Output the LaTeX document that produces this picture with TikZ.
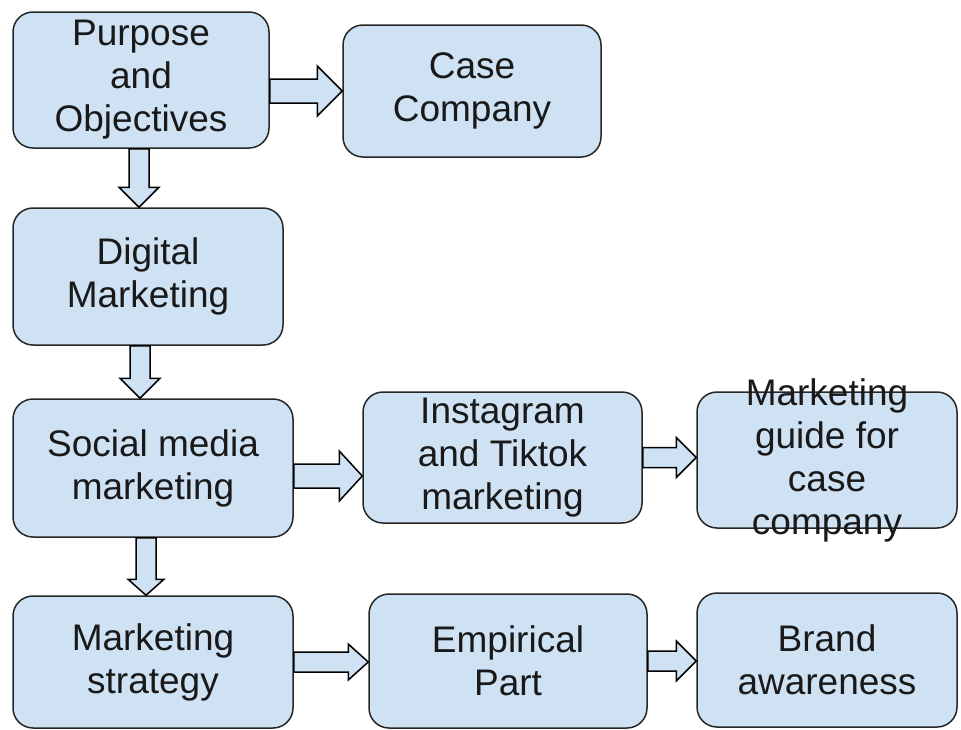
\documentclass[tikz,border=0pt]{standalone}
\usepackage{fontspec}
\setmainfont{Liberation Sans}
\usetikzlibrary{calc}
\definecolor{boxblue}{HTML}{CFE2F3}

\tikzset{
  shaft/.store in=\ashaft, head/.store in=\ahead, headlen/.store in=\alen,
  shaft=10pt, head=20pt, headlen=20pt,
  box/.style={draw=black!85, line width=1.5pt, fill=boxblue, rounded corners=20pt,
    align=center, inner sep=0pt, text=black!90, font=\fontsize{37}{43}\selectfont},
  boxtext/.style={align=center, inner sep=0pt, text=black!90, font=\fontsize{37}{43}\selectfont},
  harrow/.style={draw=black, line width=1.5pt, fill=boxblue, to path={
    let \p1=(\tikztostart), \p2=(\tikztotarget) in
    (\x1,\y1+\ashaft) -- (\x2-\alen,\y1+\ashaft) -- (\x2-\alen,\y1+\ahead) -- (\x2,\y1)
    -- (\x2-\alen,\y1-\ahead) -- (\x2-\alen,\y1-\ashaft) -- (\x1,\y1-\ashaft) -- cycle}},
  varrow/.style={draw=black, line width=1.5pt, fill=boxblue, to path={
    let \p1=(\tikztostart), \p2=(\tikztotarget) in
    (\x1-\ashaft,\y1) -- (\x1-\ashaft,\y2+\alen) -- (\x1-\ahead,\y2+\alen) -- (\x1,\y2)
    -- (\x1+\ahead,\y2+\alen) -- (\x1+\ashaft,\y2+\alen) -- (\x1+\ashaft,\y1) -- cycle}}
}

\begin{document}
\begin{tikzpicture}[x=1pt,y=-1pt]
\useasboundingbox (0,0) rectangle (961,729);
\node[box, minimum width=256pt, minimum height=136pt] (pur) at (141,80) {Purpose\\and\\Objectives};
\node[box, minimum width=258pt, minimum height=132pt] (cc) at (472,91) {Case\\Company};
\node[box, minimum width=270pt, minimum height=137pt] (dig) at (148,276.5) {Digital\\Marketing};
\node[box, minimum width=280pt, minimum height=138pt] (soc) at (153,468) {Social media\\marketing};
\node[box, minimum width=279pt, minimum height=131pt] (ig) at (502.5,457.5) {Instagram\\and Tiktok\\marketing};
\node[box, minimum width=260pt, minimum height=136pt,
  label={[boxtext]center:Marketing\\guide for\\case\\company}] (gd) at (827,460) {};
\node[box, minimum width=280pt, minimum height=132pt] (str) at (153,662) {Marketing\\strategy};
\node[box, minimum width=278pt, minimum height=134pt] (emp) at (508,661) {Empirical\\Part};
\node[box, minimum width=260pt, minimum height=134pt] (br) at (827,660) {Brand\\awareness};
% block arrows
\draw[harrow, shaft=12pt, head=25pt, headlen=25pt] (pur.east |- cc) to (cc.west);
\draw[varrow] ([xshift=-2pt]pur.south) to (dig.north);
\draw[varrow] ([xshift=-8pt]dig.south) to (soc.north);
\draw[harrow, shaft=12pt, head=25pt, headlen=23pt] ([yshift=-8pt]soc.east) to (ig.west);
\draw[harrow] (ig.east) to (gd.west);
\draw[varrow, head=18pt, headlen=16pt] ([xshift=-7pt]soc.south) to (str.north);
\draw[harrow, head=18pt] (str.east) to (emp.west);
\draw[harrow] (emp.east) to (br.west);
\end{tikzpicture}
\end{document}
